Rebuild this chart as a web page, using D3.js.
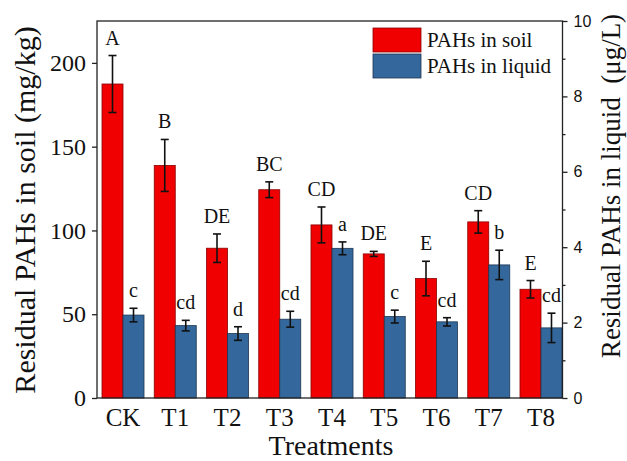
<!DOCTYPE html>
<html>
<head>
<meta charset="utf-8">
<script src="https://cdn.jsdelivr.net/npm/d3@7"></script>
<style>
  html, body { margin: 0; padding: 0; background: #fff; }
  svg { display: block; }
</style>
</head>
<body>
<svg id="chart" width="627" height="461"></svg>
<script>
const categories = ["CK", "T1", "T2", "T3", "T4", "T5", "T6", "T7", "T8"];
const soilValues = [187.4, 138.8, 89.4, 124.3, 103.3, 86.0, 71.3, 105.1, 64.9];
const soilErrors = [17.0, 15.5, 8.5, 4.7, 10.7, 1.5, 10.3, 6.7, 5.2];
const soilLetters = ["A", "B", "DE", "BC", "CD", "DE", "E", "CD", "E"];
const liquidValues = [2.20, 1.92, 1.71, 2.09, 3.97, 2.16, 2.02, 3.53, 1.86];
const liquidErrors = [0.18, 0.14, 0.18, 0.21, 0.17, 0.17, 0.11, 0.39, 0.39];
const liquidLetters = ["c", "cd", "d", "cd", "a", "c", "cd", "b", "cd"];
const leftTicks = [0, 50, 100, 150, 200];
const rightTicks = [0, 2, 4, 6, 8, 10];
const rightMinorTicks = [1, 3, 5, 7, 9];
const seriesNames = ["PAHs in soil", "PAHs in liquid"];
const colors = ["#f00000", "#34689c"];
const strokes = ["#8a0000", "#1e3550"];

const serif = "'Liberation Serif', 'Times New Roman', serif";
const sans = "'Liberation Sans', Arial, sans-serif";

const svg = d3.select("#chart");
const plot = { left: 97, right: 562.5, top: 21, bottom: 398 };

const x = d3.scaleBand().domain(categories).range([102, 562]).paddingInner(0.196).paddingOuter(0);
const xs = d3.scaleBand().domain([0, 1]).range([0, x.bandwidth()]);
const yL = d3.scaleLinear().domain([0, 225]).range([plot.bottom, plot.top]);
const yR = d3.scaleLinear().domain([0, 10]).range([plot.bottom, plot.top]);

// bars
const groups = svg.append("g").selectAll("g").data(categories).join("g")
  .attr("transform", d => `translate(${x(d)},0)`);

groups.append("rect")
  .attr("x", xs(0)).attr("width", xs.bandwidth())
  .attr("y", (d, i) => yL(soilValues[i]))
  .attr("height", (d, i) => yL(0) - yL(soilValues[i]))
  .attr("fill", colors[0]).attr("stroke", strokes[0]).attr("stroke-width", 0.8);

groups.append("rect")
  .attr("x", xs(1)).attr("width", xs.bandwidth())
  .attr("y", (d, i) => yR(liquidValues[i]))
  .attr("height", (d, i) => yR(0) - yR(liquidValues[i]))
  .attr("fill", colors[1]).attr("stroke", strokes[1]).attr("stroke-width", 0.8);

// error bars
function errBar(g, cx, yTop, yBot) {
  const cap = 4;
  g.append("line").attr("x1", cx).attr("x2", cx).attr("y1", yTop).attr("y2", yBot)
    .attr("stroke", "#111").attr("stroke-width", 1.6);
  g.append("line").attr("x1", cx - cap).attr("x2", cx + cap).attr("y1", yTop).attr("y2", yTop)
    .attr("stroke", "#111").attr("stroke-width", 1.6);
  g.append("line").attr("x1", cx - cap).attr("x2", cx + cap).attr("y1", yBot).attr("y2", yBot)
    .attr("stroke", "#111").attr("stroke-width", 1.6);
}
groups.each(function (d, i) {
  const g = d3.select(this);
  const c0 = xs(0) + xs.bandwidth() / 2;
  const c1 = xs(1) + xs.bandwidth() / 2;
  errBar(g, c0, yL(soilValues[i] + soilErrors[i]), yL(soilValues[i] - soilErrors[i]));
  errBar(g, c1, yR(liquidValues[i] + liquidErrors[i]), yR(liquidValues[i] - liquidErrors[i]));
  g.append("text").attr("x", c0).attr("y", yL(soilValues[i] + soilErrors[i]) - 11)
    .attr("text-anchor", "middle").attr("font-family", serif).attr("font-size", 20)
    .attr("fill", "#111").text(soilLetters[i]);
  g.append("text").attr("x", c1).attr("y", yR(liquidValues[i] + liquidErrors[i]) - 11)
    .attr("text-anchor", "middle").attr("font-family", serif).attr("font-size", 20)
    .attr("fill", "#111").text(liquidLetters[i]);
});

// frame
svg.append("rect").attr("x", plot.left).attr("y", plot.top)
  .attr("width", plot.right - plot.left).attr("height", plot.bottom - plot.top)
  .attr("fill", "none").attr("stroke", "#222").attr("stroke-width", 1.3);

// left axis
const leftAxis = d3.axisLeft(yL).tickValues(leftTicks).tickSize(5).tickPadding(6);
const gl = svg.append("g").attr("transform", `translate(${plot.left},0)`).call(leftAxis);
gl.select(".domain").remove();
gl.selectAll("line").attr("stroke", "#222").attr("stroke-width", 1.3);
gl.selectAll("text").attr("font-family", serif).attr("font-size", 24).attr("fill", "#111");

// right axis
const rightAxis = d3.axisRight(yR).tickValues(rightTicks).tickSize(5).tickPadding(6);
const gr = svg.append("g").attr("transform", `translate(${plot.right},0)`).call(rightAxis);
gr.select(".domain").remove();
gr.selectAll("line").attr("stroke", "#222").attr("stroke-width", 1.3);
gr.selectAll("text").attr("font-family", sans).attr("font-size", 16).attr("fill", "#111");
const rightMinor = d3.axisRight(yR).tickValues(rightMinorTicks).tickSize(3).tickFormat("");
const grm = svg.append("g").attr("transform", `translate(${plot.right},0)`).call(rightMinor);
grm.select(".domain").remove();
grm.selectAll("line").attr("stroke", "#222").attr("stroke-width", 1.3);

// bottom axis labels
const bottomAxis = d3.axisBottom(x).tickSize(0).tickPadding(10);
const gb = svg.append("g").attr("transform", `translate(0,${plot.bottom})`).call(bottomAxis);
gb.select(".domain").remove();
gb.selectAll("text").attr("font-family", serif).attr("font-size", 25).attr("fill", "#111");

// axis titles
svg.append("text").attr("x", 331).attr("y", 455).attr("text-anchor", "middle")
  .attr("font-family", serif).attr("font-size", 28).attr("fill", "#111").text("Treatments");
svg.append("text").attr("transform", "translate(35,210) rotate(-90)").attr("text-anchor", "middle")
  .attr("font-family", serif).attr("font-size", 30).attr("fill", "#111")
  .text("Residual PAHs in soil (mg/kg)");
svg.append("text").attr("transform", "translate(620,186) rotate(-90)").attr("text-anchor", "middle")
  .attr("font-family", serif).attr("font-size", 27).attr("fill", "#111").attr("xml:space", "preserve")
  .style("white-space", "pre")
  .text("Residual PAHs in liquid  (\u03bcg/L)");

// legend
const legend = svg.append("g");
seriesNames.forEach((name, i) => {
  legend.append("rect").attr("x", 373).attr("y", 28 + i * 26).attr("width", 48).attr("height", 24)
    .attr("fill", colors[i]).attr("stroke", strokes[i]).attr("stroke-width", 0.8);
  legend.append("text").attr("x", 427).attr("y", 47 + i * 26)
    .attr("font-family", serif).attr("font-size", 21).attr("fill", "#111").text(name);
});
</script>
</body>
</html>
